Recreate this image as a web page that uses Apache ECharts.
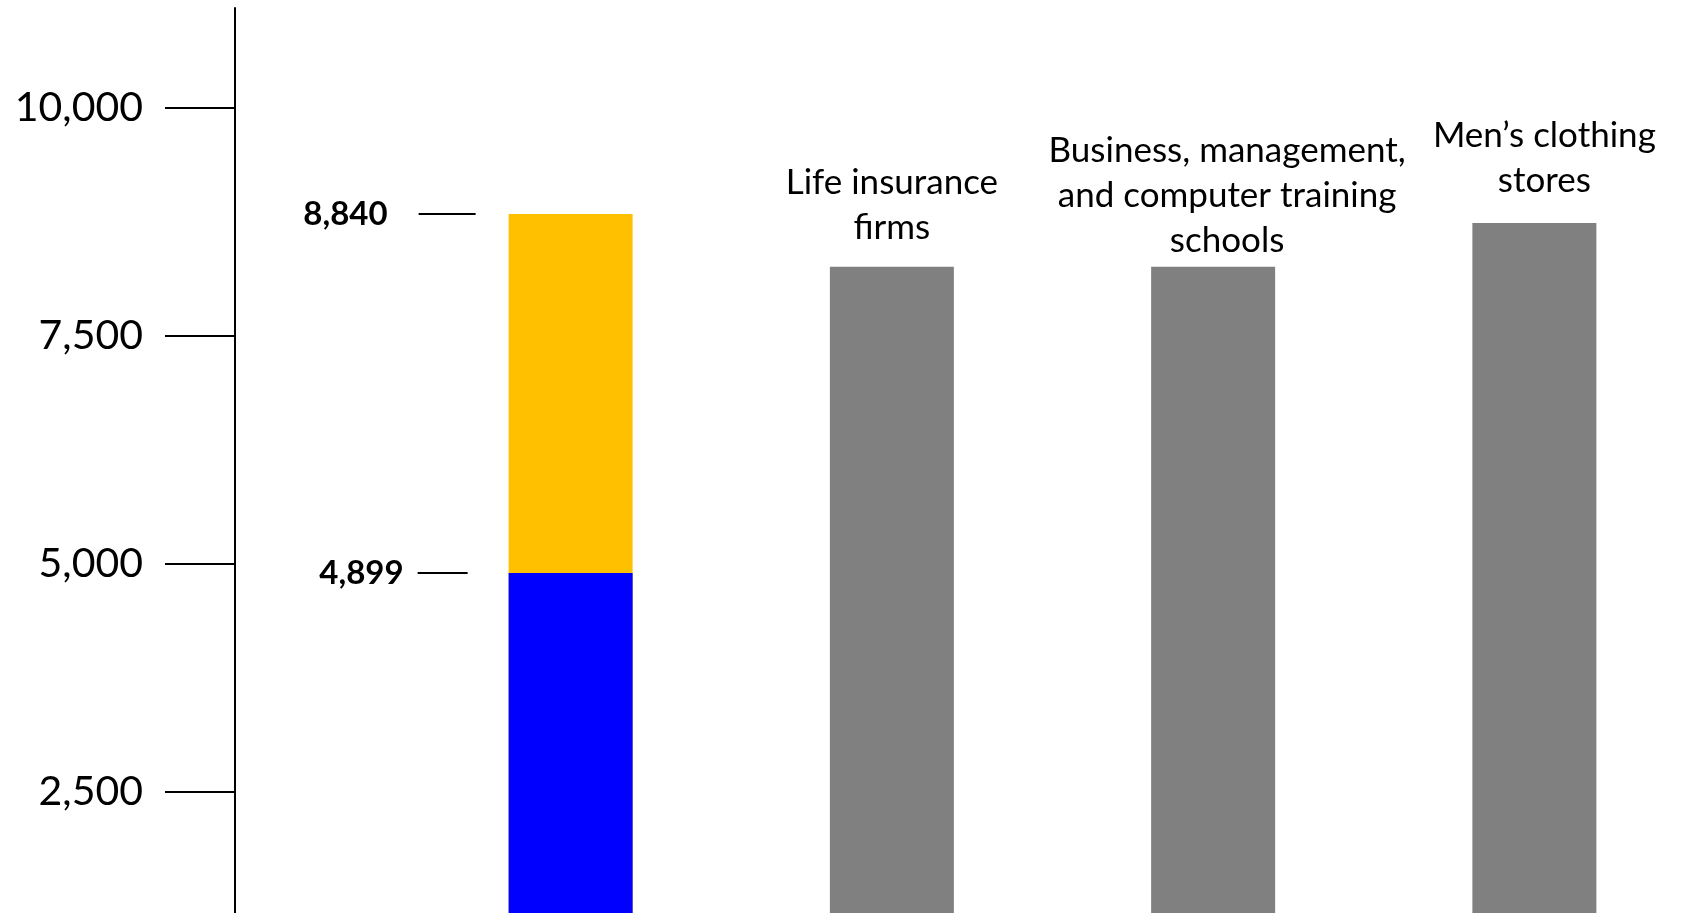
<!DOCTYPE html>
<html>
<head>
<meta charset="utf-8">
<script src="https://cdn.jsdelivr.net/npm/echarts@6/dist/echarts.min.js"></script>
<style>
  html, body { margin: 0; padding: 0; background: #ffffff; }
  #chart { width: 1695px; height: 913px; }
</style>
</head>
<body>
<div id="chart"></div>
<script>
// Industry categories (first column is the highlighted stacked bar)
const categories = [
  '',
  'Life insurance\nfirms',
  'Business, management,\nand computer training\nschools',
  'Men\u2019s clothing\nstores'
];
// Highlighted bar: lower (blue) level and upper (orange) level
const lowerValues = [4899, '-', '-', '-'];
const upperValues = [8840, '-', '-', '-'];
// Comparison industries (grey bars)
const industryValues = ['-', 8260, 8260, 8740];
// Y axis tick labels
const tickValues = [2500, 5000, 7500, 10000];

// Label nudges for the grey bar captions [dx, dy]
const captionOffsets = [[0, 0], [0, -17], [14, -4], [10, -20]];

const FONT = 'Lato, "Open Sans", sans-serif';
const fmt = v => v.toLocaleString('en-US');

function valueLabel(lineWidth, gap, dx) {
  return {
    show: true,
    position: [dx, 0],
    align: 'right',
    verticalAlign: 'middle',
    formatter: p => '{v|' + fmt(p.value) + '}{g|}{l|}',
    rich: {
      v: { fontFamily: FONT, fontWeight: 'bold', fontSize: 33, color: '#000' },
      g: { width: gap, height: 2 },
      l: { width: lineWidth, height: 2, backgroundColor: '#000' }
    }
  };
}

const chart = echarts.init(document.getElementById('chart'), null, { renderer: 'canvas' });

chart.setOption({
  animation: false,
  backgroundColor: '#ffffff',
  grid: { left: 410, width: 1293, top: 8, bottom: 0, containLabel: false },
  xAxis: {
    type: 'category',
    data: categories,
    show: false
  },
  yAxis: {
    type: 'value',
    min: 1169,
    max: 11100,
    offset: 175,
    axisLine: { show: true, lineStyle: { color: '#000', width: 2 } },
    axisTick: {
      show: true,
      length: 70,
      customValues: tickValues,
      lineStyle: { color: '#000', width: 2 }
    },
    axisLabel: {
      show: true,
      customValues: tickValues,
      margin: 92,
      fontFamily: FONT,
      fontSize: 41,
      color: '#000',
      padding: [0, 0, 12, 0],
      formatter: v => fmt(v)
    },
    splitLine: { show: false }
  },
  series: [
    {
      name: 'Upper',
      type: 'bar',
      data: upperValues,
      barWidth: 124,
      itemStyle: { color: '#FFC000' },
      label: valueLabel(57, 31, -33)
    },
    {
      name: 'Lower',
      type: 'bar',
      data: lowerValues,
      barWidth: 124,
      itemStyle: { color: '#0000FF' },
      label: valueLabel(50, 14, -41)
    },
    {
      name: 'Industries',
      type: 'bar',
      barWidth: 124,
      barGap: '-100%',
      itemStyle: { color: '#808080' },
      data: industryValues.map((v, i) => ({
        value: v,
        label: { offset: captionOffsets[i] }
      })),
      label: {
        show: true,
        position: 'top',
        distance: 0,
        formatter: p => categories[p.dataIndex],
        fontFamily: FONT,
        fontSize: 35,
        lineHeight: 45,
        align: 'center',
        color: '#000'
      }
    }
  ]
});
</script>
</body>
</html>
